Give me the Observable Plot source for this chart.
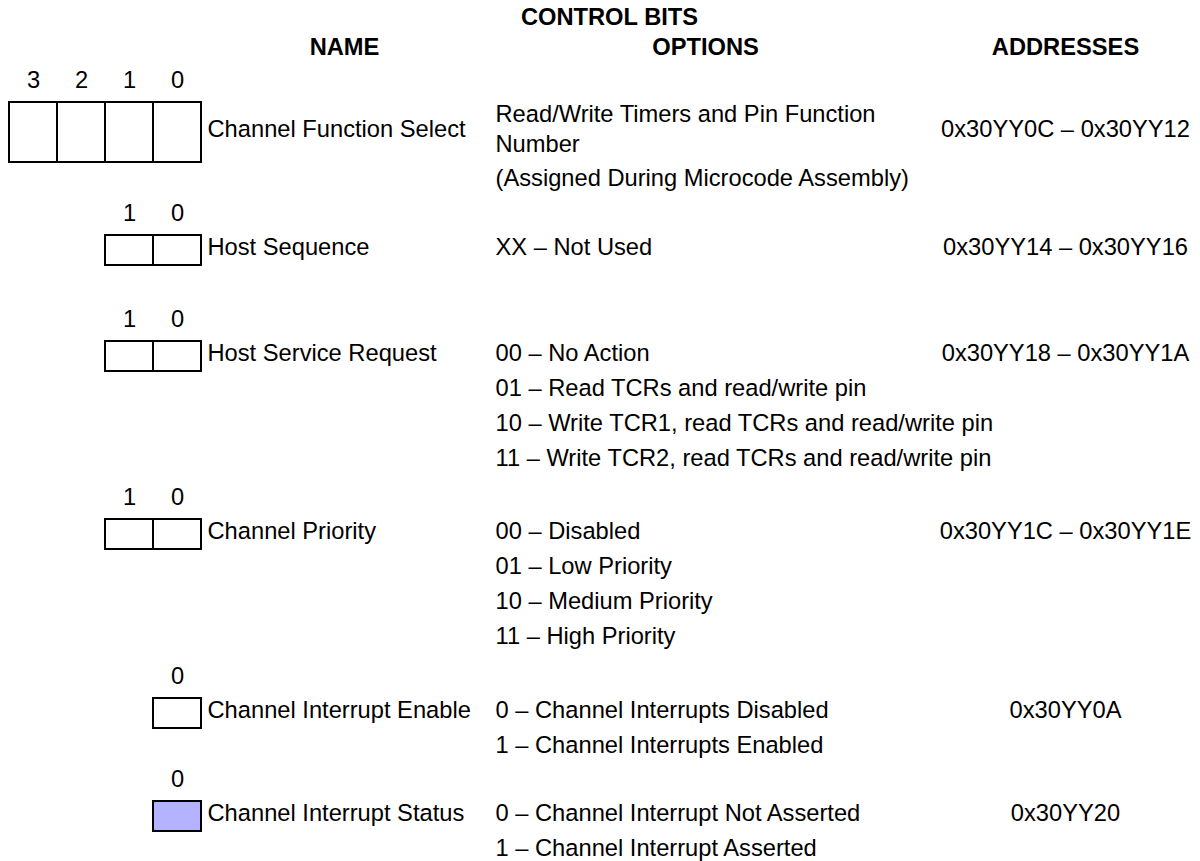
<!DOCTYPE html>
<html>
<head>
<meta charset="utf-8">
<script src="https://cdn.jsdelivr.net/npm/d3@7"></script>
<script src="https://cdn.jsdelivr.net/npm/@observablehq/plot@0.6"></script>
<style>
  html, body { margin: 0; padding: 0; background: #fff; }
  #chart svg { display: block; }
</style>
</head>
<body>
<div id="chart"></div>
<script>
// ---------- data ----------
const title = "CONTROL BITS";
const headers = ["NAME", "OPTIONS", "ADDRESSES"];
const names = [
  "Channel Function Select",
  "Host Sequence",
  "Host Service Request",
  "Channel Priority",
  "Channel Interrupt Enable",
  "Channel Interrupt Status"
];
const bitCounts = [4, 2, 2, 2, 1, 1];
const highlighted = [false, false, false, false, false, true];
const options = [
  ["Read/Write Timers and Pin Function\nNumber", "(Assigned During Microcode Assembly)"],
  ["XX – Not Used"],
  ["00 – No Action", "01 – Read TCRs and read/write pin", "10 – Write TCR1, read TCRs and read/write pin", "11 – Write TCR2, read TCRs and read/write pin"],
  ["00 – Disabled", "01 – Low Priority", "10 – Medium Priority", "11 – High Priority"],
  ["0 – Channel Interrupts Disabled", "1 – Channel Interrupts Enabled"],
  ["0 – Channel Interrupt Not Asserted", "1 – Channel Interrupt Asserted"]
];
const addresses = [
  "0x30YY0C – 0x30YY12",
  "0x30YY14 – 0x30YY16",
  "0x30YY18 – 0x30YY1A",
  "0x30YY1C – 0x30YY1E",
  "0x30YY0A",
  "0x30YY20"
];

// ---------- layout (computed) ----------
const W = 1200, H = 861;
const FONT = "'Liberation Sans', Arial, Helvetica, sans-serif";
const FS = 23.7;
const rowLabelY = [80, 213, 319, 497, 676, 779];
const boxRight = 201, cellW = 48;
const nameX = 207, optX = 495, addrX = 1065;
const wrapPitch = 30, itemPitch = 35;

const cells = [], bitLabels = [], nameRows = [], optLines = [], addrRows = [];
names.forEach((name, r) => {
  const top = rowLabelY[r] + 22;
  const h = bitCounts[r] === 4 ? 60 : 30;
  const cy = top + h / 2 - 3;
  for (let b = bitCounts[r] - 1; b >= 0; b--) {
    const x1 = boxRight - cellW * (b + 1), x2 = boxRight - cellW * b;
    cells.push({x1, x2, y1: top, y2: top + h, fill: highlighted[r] ? "#b3b3ff" : "#ffffff"});
    bitLabels.push({x: (x1 + x2) / 2, y: rowLabelY[r], text: String(b)});
  }
  nameRows.push({x: nameX, y: cy, text: name});
  addrRows.push({x: addrX, y: cy, text: addresses[r]});
  let y = cy - (wrapPitch / 2) * (options[r][0].split("\n").length - 1);
  options[r].forEach((item, i) => {
    const lines = item.split("\n");
    lines.forEach((ln, j) => {
      optLines.push({x: optX, y, text: ln});
      if (j < lines.length - 1) y += wrapPitch;
    });
    y += itemPitch - (lines.length > 1 ? 1 : 0);
  });
});

const headerRows = [
  {x: 609, y: 17, text: title},
  {x: 344, y: 47, text: headers[0]},
  {x: 705, y: 47, text: headers[1]},
  {x: 1065, y: 47, text: headers[2]}
];

const chart = Plot.plot({
  width: W,
  height: H,
  margin: 0,
  x: {domain: [0, W], range: [0, W], axis: null},
  y: {domain: [0, H], range: [0, H], axis: null},
  style: {fontFamily: FONT, background: "#fff"},
  marks: [
    Plot.rect(cells, {x1: "x1", x2: "x2", y1: "y1", y2: "y2", fill: d => d.fill, stroke: "#000", strokeWidth: 2}),
    Plot.text(bitLabels, {x: "x", y: "y", text: "text", fontSize: FS, fontFamily: FONT, fill: "#000", textAnchor: "middle"}),
    Plot.text(nameRows, {x: "x", y: "y", text: "text", fontSize: FS, fontFamily: FONT, fill: "#000", textAnchor: "start"}),
    Plot.text(optLines, {x: "x", y: "y", text: "text", fontSize: FS, fontFamily: FONT, fill: "#000", textAnchor: "start"}),
    Plot.text(addrRows, {x: "x", y: "y", text: "text", fontSize: FS, fontFamily: FONT, fill: "#000", textAnchor: "middle"}),
    Plot.text(headerRows, {x: "x", y: "y", text: "text", fontSize: FS, fontFamily: FONT, fontWeight: "bold", fill: "#000", textAnchor: "middle"})
  ]
});
document.getElementById("chart").appendChild(chart);
</script>
</body>
</html>
